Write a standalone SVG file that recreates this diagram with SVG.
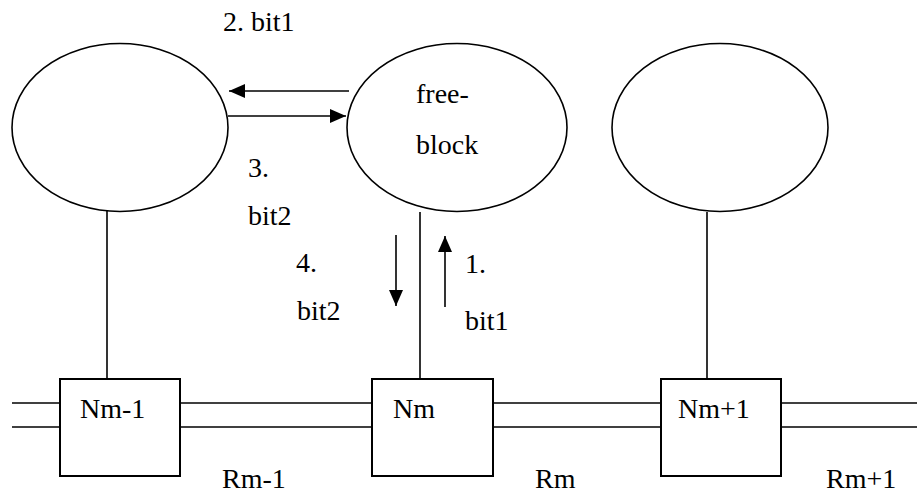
<svg xmlns="http://www.w3.org/2000/svg" width="917" height="493" viewBox="0 0 917 493">
<style>
.ell{fill:none;stroke:#000;stroke-width:1.6}
.box{fill:#fff;stroke:#000;stroke-width:2}
.ln{stroke:#000;stroke-width:1.6;fill:none}
.t{font-family:'Liberation Serif','Times New Roman',Times,serif;font-size:28px;fill:#000}
</style>
<defs>
<marker id="ah" markerUnits="userSpaceOnUse" markerWidth="16" markerHeight="14" refX="16" refY="7" orient="auto">
<path d="M0,0 L16,7 L0,14 Z" fill="#000"/>
</marker>
</defs>
<rect width="917" height="493" fill="#fff"/>
<g id="connectors">
<line class="ln" x1="107" y1="211" x2="107" y2="379"/>
<line class="ln" x1="420" y1="212" x2="420" y2="379"/>
<line class="ln" x1="707" y1="212" x2="707" y2="379"/>
<line class="ln" x1="349" y1="91" x2="229" y2="91" marker-end="url(#ah)"/>
<line class="ln" x1="228" y1="116" x2="346" y2="116" marker-end="url(#ah)"/>
<line class="ln" x1="396" y1="235" x2="396" y2="306" marker-end="url(#ah)"/>
<line class="ln" x1="445" y1="307" x2="445" y2="236" marker-end="url(#ah)"/>
<line class="ln" x1="12" y1="403" x2="60" y2="403"/>
<line class="ln" x1="12" y1="427" x2="60" y2="427"/>
<line class="ln" x1="180" y1="403" x2="372" y2="403"/>
<line class="ln" x1="180" y1="427" x2="372" y2="427"/>
<line class="ln" x1="493" y1="403" x2="661" y2="403"/>
<line class="ln" x1="493" y1="427" x2="661" y2="427"/>
<line class="ln" x1="781" y1="403" x2="917" y2="403"/>
<line class="ln" x1="781" y1="427" x2="917" y2="427"/>
<text class="t" x="223" y="31">2. bit1</text>
<text class="t" x="248" y="177">3.</text>
<text class="t" x="248" y="225">bit2</text>
<text class="t" x="296" y="272">4.</text>
<text class="t" x="297" y="320">bit2</text>
<text class="t" x="465" y="273">1.</text>
<text class="t" x="465" y="330">bit1</text>
</g>
<g id="node-left"><ellipse class="ell" cx="120" cy="127.5" rx="108" ry="84"/></g>
<g id="node-freeblock"><ellipse class="ell" cx="457" cy="127.5" rx="110" ry="84"/>
<text class="t" x="416" y="103">free-</text>
<text class="t" x="416" y="154">block</text></g>
<g id="node-right"><ellipse class="ell" cx="720" cy="127.5" rx="108" ry="84"/></g>
<g id="node-Nm-1"><rect class="box" x="60" y="379" width="120" height="97"/><text class="t" x="80" y="418">Nm-1</text></g>
<g id="node-Nm"><rect class="box" x="372" y="379" width="121" height="97"/><text class="t" x="393" y="418">Nm</text></g>
<g id="node-Nm+1"><rect class="box" x="661" y="379" width="120" height="97"/><text class="t" x="678" y="418">Nm+1</text></g>
<g id="labels">
<text class="t" x="222" y="488">Rm-1</text>
<text class="t" x="535" y="488">Rm</text>
<text class="t" x="826" y="488">Rm+1</text>
</g>
</svg>
